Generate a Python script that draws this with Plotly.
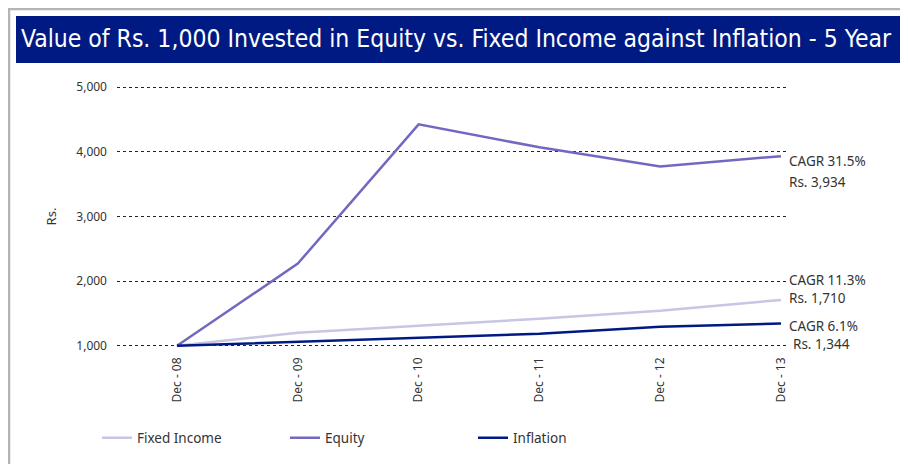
import plotly.graph_objects as go

# chart data
periods = ["Dec - 08", "Dec - 09", "Dec - 10", "Dec - 11", "Dec - 12", "Dec - 13"]
fixed_income = [1000, 1202, 1310, 1419, 1543, 1710]
equity = [1000, 2271, 4426, 4070, 3775, 3934]
inflation = [1000, 1062, 1124, 1186, 1295, 1344]
end_labels = {
    "Equity": ("CAGR 31.5%", "Rs. 3,934"),
    "Fixed Income": ("CAGR 11.3%", "Rs. 1,710"),
    "Inflation": ("CAGR 6.1%", "Rs. 1,344"),
}

# the page body adds an 8px margin, so the figure is drawn 8px in from the window edge
OFF = 8
W, H = 908 - OFF, 464 - OFF
L, R, T, B = 117, 789, 84, 349  # plot area in window pixels
X0, DX = 177, 120.8  # window x of first category and category spacing


def px_x(x):
    return (x - L) / (R - L)


def px_y(y):
    return (B - y) / (B - T)


FONT = "Noto Sans"
TEXT = "#333333"

xs = list(range(len(periods)))
fig = go.Figure()
series = [
    ("Fixed Income", fixed_income, "#c9c5e5"),
    ("Equity", equity, "#7169c1"),
    ("Inflation", inflation, "#001a84"),
]
for name, vals, color in series:
    fig.add_trace(
        go.Scatter(x=xs, y=vals, name=name, mode="lines",
                   line=dict(color=color, width=2.5), cliponaxis=False)
    )

# end-of-line CAGR labels
label_pos = {
    "Equity": [(787, 161), (787, 182)],
    "Fixed Income": [(787, 280), (787, 298)],
    "Inflation": [(787, 326), (791, 344)],
}
for name, (l1, l2) in end_labels.items():
    for txt, (x, y) in zip((l1, l2), label_pos[name]):
        fig.add_annotation(
            x=px_x(x), y=px_y(y), xref="paper", yref="paper", text=txt,
            showarrow=False, xanchor="left", yanchor="middle",
            font=dict(family=FONT, size=13.5, color=TEXT),
        )

# outer frame and title band
fig.add_shape(type="rect", xref="paper", yref="paper",
              x0=px_x(OFF + 1), x1=px_x(930), y0=px_y(490), y1=px_y(OFF + 1),
              line=dict(color="#b4b4b4", width=2.5), fillcolor="rgba(0,0,0,0)", layer="below")
fig.add_shape(type="rect", xref="paper", yref="paper",
              x0=px_x(16), x1=px_x(930), y0=px_y(63), y1=px_y(16),
              line=dict(width=0), fillcolor="#001a84", layer="below")
fig.add_annotation(
    x=px_x(19), y=px_y(38), xref="paper", yref="paper",
    text="Value of Rs. 1,000 Invested in Equity vs. Fixed Income against Inflation - 5 Year",
    showarrow=False, xanchor="left", yanchor="middle",
    font=dict(family="DejaVu Sans Condensed, Liberation Sans Narrow, sans-serif",
              size=24.5, color="white"),
)

fig.update_xaxes(
    range=[(L - X0) / DX, (R - X0) / DX],
    tickvals=xs, ticktext=periods, tickangle=-90, ticklabelstandoff=5,
    showgrid=False, showline=False, zeroline=False, automargin=False,
    tickfont=dict(family=FONT, size=12, color=TEXT),
)
fig.update_yaxes(
    range=[950, 5050], tickvals=[1000, 2000, 3000, 4000, 5000],
    tickformat=",", showgrid=True, gridcolor="#222222", griddash="dot", gridwidth=1,
    zeroline=False, showline=False, ticks="", ticklabelstandoff=9, automargin=False,
    tickfont=dict(family=FONT, size=12, color=TEXT),
    title=dict(text="Rs.", font=dict(family=FONT, size=13, color=TEXT), standoff=16),
)
fig.update_layout(
    width=W, height=H,
    margin=dict(l=L - OFF, r=W - (R - OFF), t=T - OFF, b=H - (B - OFF), autoexpand=False),
    plot_bgcolor="white", paper_bgcolor="white",
    showlegend=True,
    legend=dict(orientation="h", x=px_x(97), y=px_y(438), yanchor="middle",
                xanchor="left", entrywidth=143, entrywidthmode="pixels",
                font=dict(family=FONT, size=13.5, color=TEXT)),
)

fig.write_html("out.html")
